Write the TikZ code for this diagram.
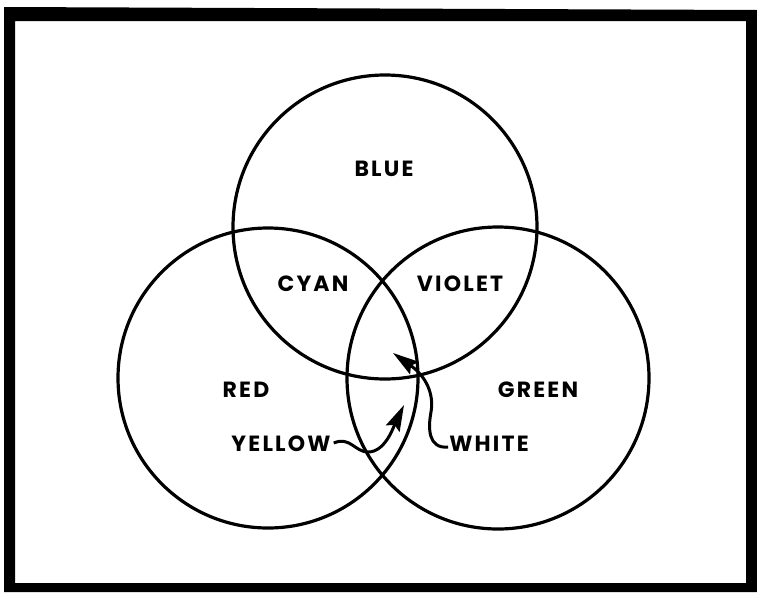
\documentclass[tikz,border=0pt]{standalone}
\usepackage{fontspec}
\setmainfont{Poppins}
\newfontfamily\labfont{Poppins}[LetterSpace=10]
\usetikzlibrary{arrows.meta}
\begin{document}
\begin{tikzpicture}[x=1pt,y=-1pt,
  ring/.style={circle,draw,line width=3.2pt,inner sep=0pt},
  lab/.style={font=\labfont\fontsize{22}{22}\selectfont\bfseries, inner sep=0pt},
  pointer/.style={line width=3pt,-{Stealth[length=26pt,width=15pt,inset=4pt]}}]
\useasboundingbox (0,0) rectangle (757,592);
\fill[even odd rule] (4,7) -- (757,10) -- (757,592) -- (4,592) -- cycle
  (15,21) rectangle (746,583);
\node[ring,minimum size=304pt] (blue) at (385,227) {};
\node[ring,minimum size=300pt] (red) at (268,378) {};
\node[ring,minimum size=302pt] (green) at (498,378) {};
\node[lab] (tblue) at (384,169) {BLUE};
\node[lab] (tcyan) at (313,284) {CYAN};
\node[lab] (tviolet) at (460,284) {VIOLET};
\node[lab] (tred) at (246,390) {RED};
\node[lab] (tgreen) at (538,390) {GREEN};
\node[lab] (tyellow) at (281,444) {YELLOW};
\node[lab] (twhite) at (489,444) {WHITE};
\coordinate (ytip) at (404,405);
\coordinate (wtip) at (393,353);
\draw[pointer] ([xshift=3pt,yshift=1pt]tyellow.east) .. controls (350,436) and (355,452) .. (368,452)
  .. controls (385,452) and (393,428) .. (ytip);
\draw[pointer] ([xshift=-1pt,yshift=-3pt]twhite.west) .. controls (428,449) and (428,428) .. (431,412)
  .. controls (434,395) and (427,377) .. (wtip);
\end{tikzpicture}
\end{document}
